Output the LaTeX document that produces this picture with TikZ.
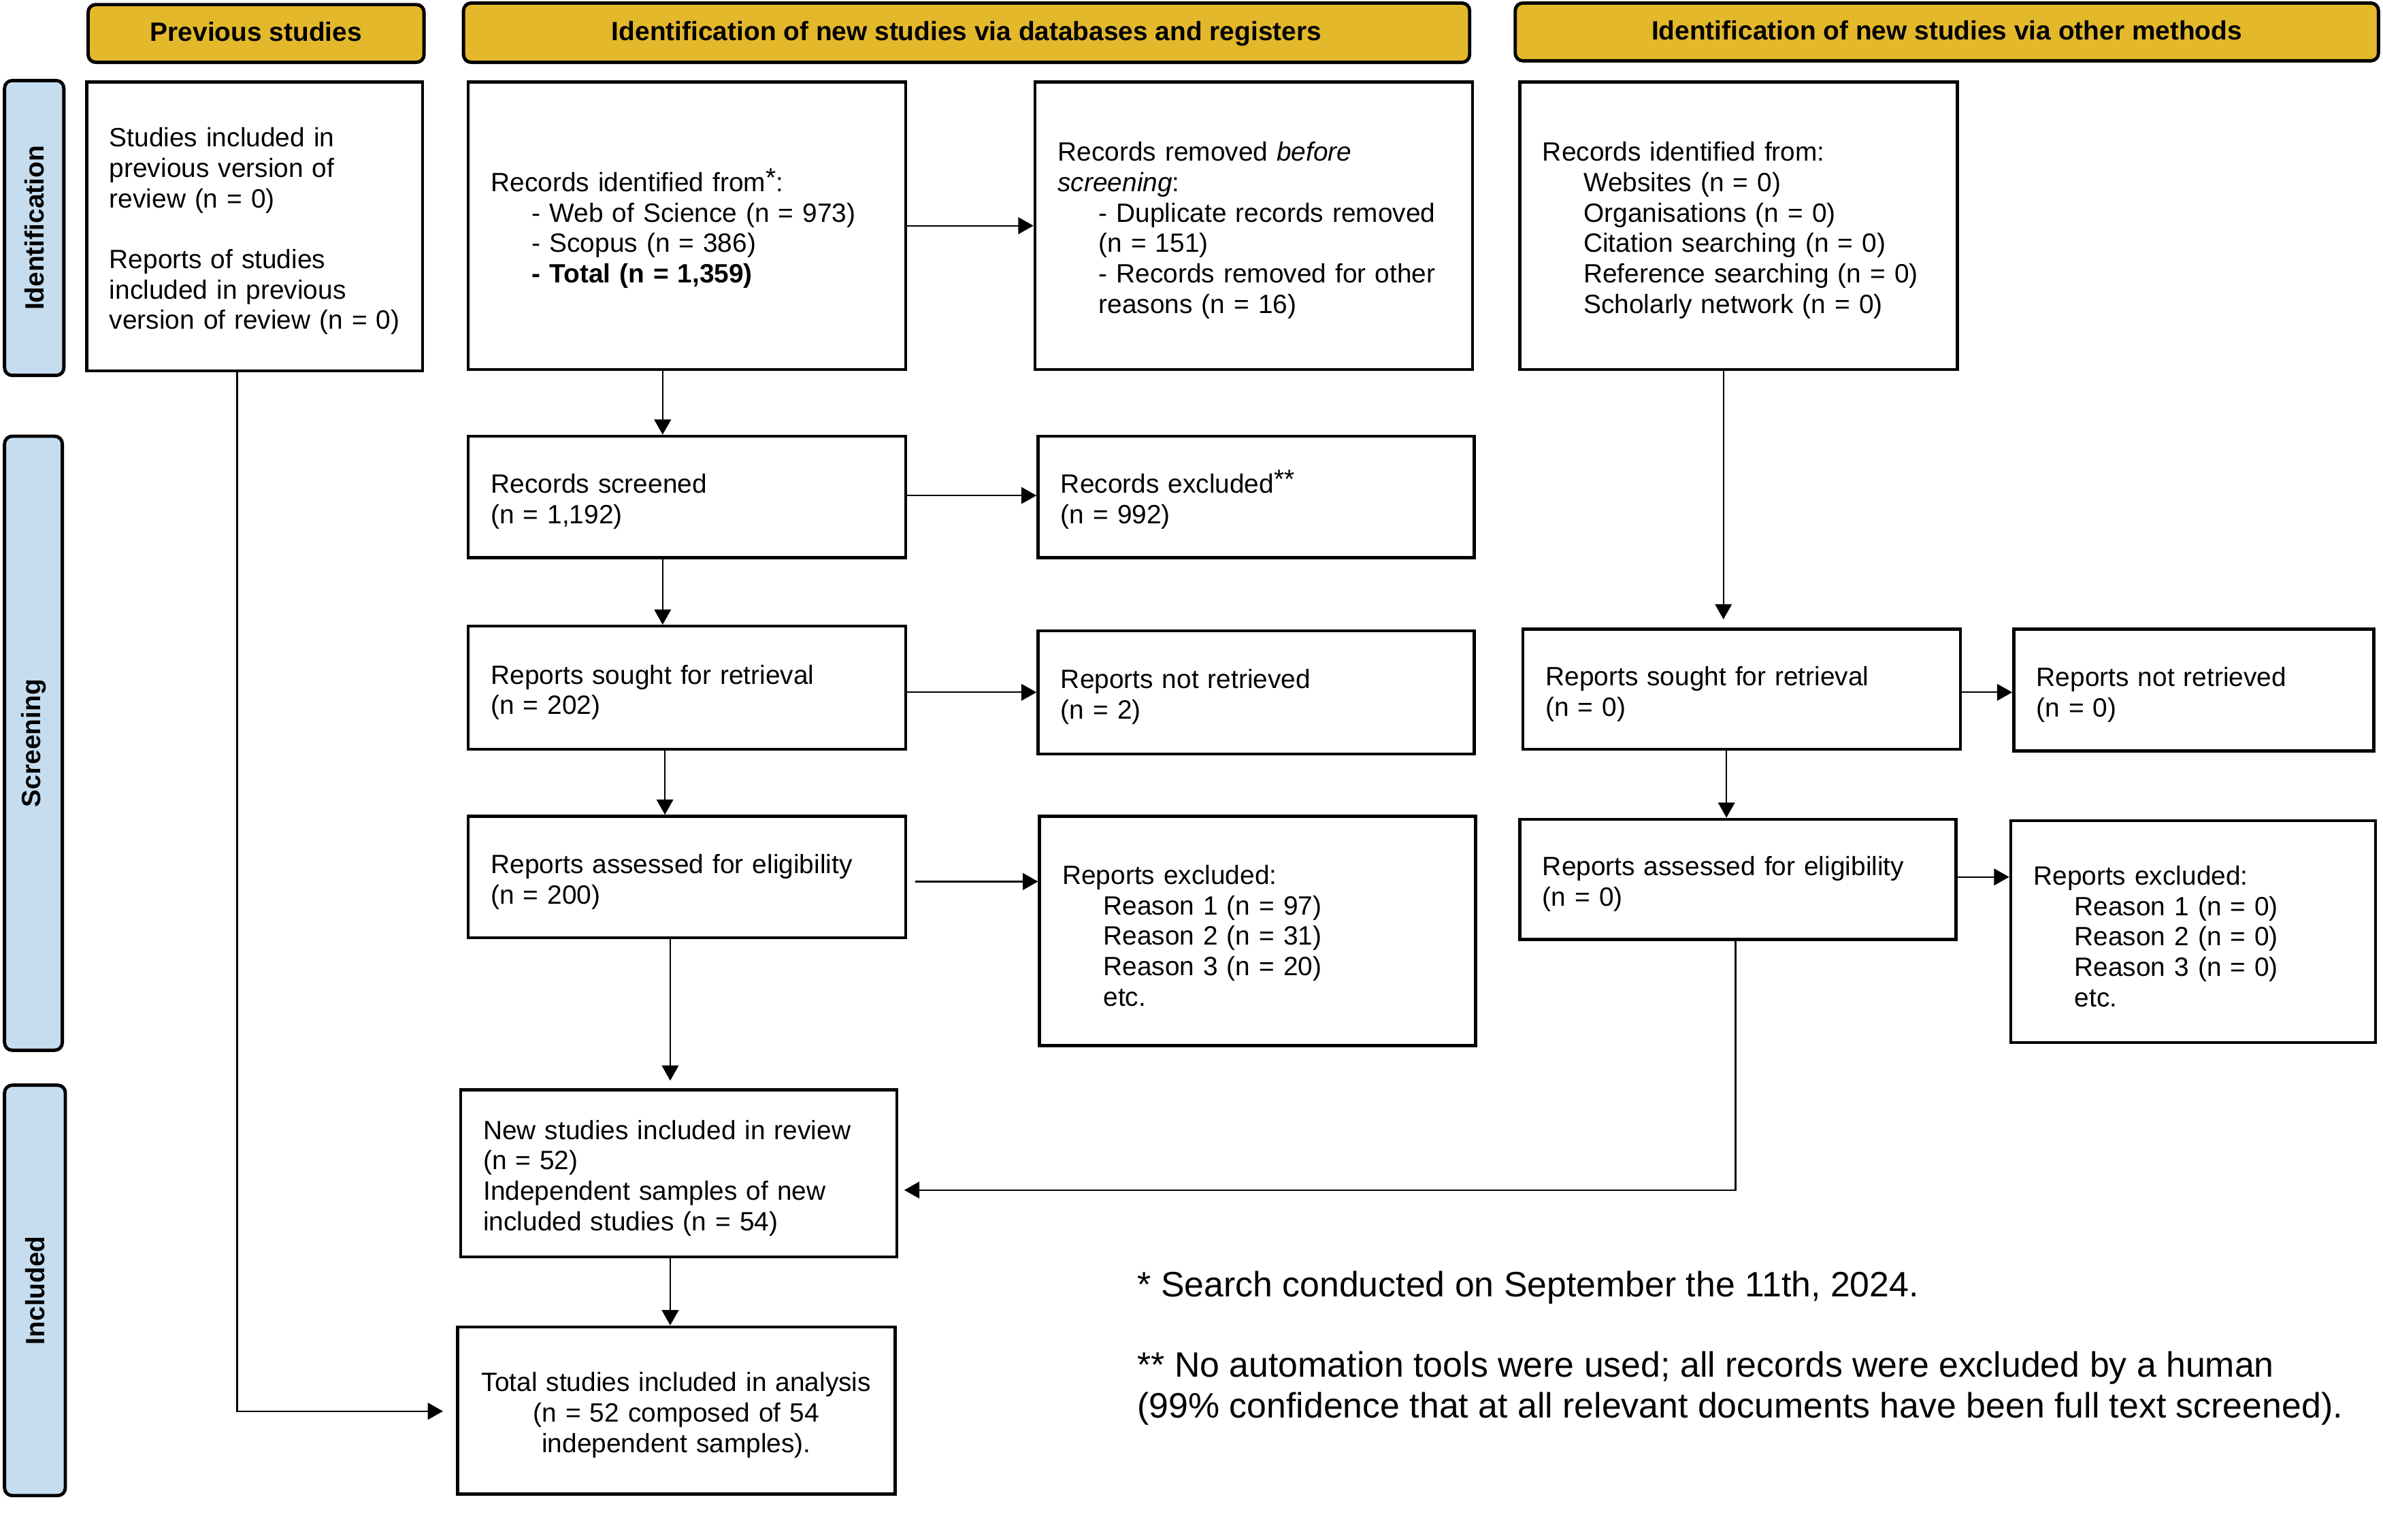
\documentclass[tikz,border=0pt]{standalone}
\usepackage{fontspec}
\setmainfont{Liberation Sans}
\usepackage{xcolor}
\usepackage{tikz}
\usetikzlibrary{positioning,arrows.meta,calc}
\definecolor{hdrgold}{HTML}{E3B82B}
\definecolor{sideblue}{HTML}{C6DDF0}
\newcommand{\ind}{\hspace*{13.5pt}}
\newcommand{\upstar}[1]{\raisebox{0.35ex}{#1}}

\begin{document}
\begin{tikzpicture}[x=0.5pt,y=-0.5pt,
	hdr/.style={draw, line width=1.1pt, rounded corners=2.5pt, fill=hdrgold, inner sep=0pt, text height=6.3pt, text depth=1.2pt, font=\fontsize{8.7}{10}\selectfont\bfseries},
	side/.style={draw, line width=1.1pt, rounded corners=2.5pt, fill=sideblue, inner sep=0pt, rotate=90, font=\fontsize{8.7}{10}\selectfont\bfseries},
	box/.style={draw, line width=1pt, inner xsep=7.5pt, inner ysep=0pt, align=left, execute at begin node={\rule{0pt}{9.4pt}}, font=\fontsize{8.7}{10}\selectfont},
	arr/.style={line width=0.5pt, -{Triangle[length=5pt,width=5.5pt]}},
	note/.style={inner sep=0pt, anchor=west, align=left, font=\fontsize{11.6}{13.5}\selectfont}]
	\useasboundingbox (0,0) rectangle (1568,1013);
	
	% Headers
	\node[hdr, minimum width=110.5pt, minimum height=19pt] (hprev) at (168.5,22) {Previous studies};
	\node[hdr, minimum width=331pt, minimum height=19.5pt] (hdb) at (636,21.5) {Identification of new studies via databases and registers};
	\node[hdr, minimum width=284pt, minimum height=19pt] (hother) at (1281,21) {Identification of new studies via other methods};
	
	% Side bars
	\node[side, minimum width=97pt, minimum height=19.5pt] (sid) at (22.5,150) {Identification};
	\node[side, minimum width=202pt, minimum height=19pt] (sscr) at (22,489) {Screening};
	\node[side, minimum width=135pt, minimum height=20pt] (sinc) at (23,849) {Included};
	
	% Identification row
	\node[box, text width=95.5pt, minimum height=95pt] (prev) at (167.5,149) {Studies included in\\previous version of\\review (n = 0)\\[10pt]Reports of studies\\included in previous\\version of review (n = 0)};
	\node[box, text width=129pt, minimum height=94.5pt] (ident) at (452,148.5) {Records identified from\upstar{*}:\\\ind- Web of Science (n = 973)\\\ind- Scopus (n = 386)\\\ind\textbf{- Total (n = 1,359)}};
	\node[box, text width=129pt, minimum height=94.5pt] (removed) at (825,148.5) {Records removed \textit{before}\\\textit{screening}:\\\ind- Duplicate records removed\\\ind(n = 151)\\\ind- Records removed for other\\\ind reasons (n = 16)};
	\node[box, text width=129pt, minimum height=94.5pt] (oident) at (1144,148.5) {Records identified from:\\\ind Websites (n = 0)\\\ind Organisations (n = 0)\\\ind Citation searching (n = 0)\\\ind Reference searching (n = 0)\\\ind Scholarly network (n = 0)};
	
	% Screening rows
	\node[box, text width=129pt, minimum height=40pt] (screened) at (452,327) {Records screened\\(n = 1,192)};
	\node[box, text width=128.5pt, minimum height=40pt] (excl) at (826.5,327) {Records excluded\upstar{**}\\(n = 992)};
	\node[box, text width=129pt, minimum height=40.5pt] (sought) at (452,452.5) {Reports sought for retrieval\\(n = 202)};
	\node[box, text width=128.5pt, minimum height=40.5pt] (notret) at (826.5,455.5) {Reports not retrieved\\(n = 2)};
	\node[box, text width=129pt, minimum height=39.5pt] (osought) at (1146,453.5) {Reports sought for retrieval\\(n = 0)};
	\node[box, text width=103.5pt, minimum height=40pt] (onotret) at (1443.5,454) {Reports not retrieved\\(n = 0)};
	\node[box, text width=129pt, minimum height=40pt] (assessed) at (452,577) {Reports assessed for eligibility\\(n = 200)};
	\node[box, text width=128.5pt, minimum height=75.5pt] (rexcl) at (827.5,612.5) {Reports excluded:\\\ind Reason 1 (n = 97)\\\ind Reason 2 (n = 31)\\\ind Reason 3 (n = 20)\\\ind etc.};
	\node[box, text width=128.5pt, minimum height=39.5pt] (oassessed) at (1143.5,578.5) {Reports assessed for eligibility\\(n = 0)};
	\node[box, text width=105pt, minimum height=73pt] (oexcl) at (1443,613) {Reports excluded:\\\ind Reason 1 (n = 0)\\\ind Reason 2 (n = 0)\\\ind Reason 3 (n = 0)\\\ind etc.};
	
	% Included rows
	\node[box, text width=128.5pt, minimum height=55pt] (newst) at (446.5,772) {New studies included in review\\(n = 52)\\Independent samples of new\\included studies (n = 54)};
	\node[box, align=center, text width=129pt, minimum height=55pt] (total) at (445,928) {Total studies included in analysis\\(n = 52 composed of 54\\independent samples).};
	
	% Footnotes
	\node[note] (fn1) at (748,847) {* Search conducted on September the 11th, 2024.};
	\node[note] (fn2) at (748,913.5) {** No automation tools were used; all records were excluded by a human\\(99\% confidence that at all relevant documents have been full text screened).};
	
	% Arrows, databases column
	\draw[arr] ([xshift=-8pt]ident.south) -- ([xshift=-8pt]screened.north);
	\draw[arr] ([xshift=-8pt]screened.south) -- ([xshift=-8pt]sought.north);
	\draw[arr] ([xshift=-7.25pt]sought.south) -- ([xshift=-7.25pt]assessed.north);
	\draw[arr] ([xshift=-5.5pt]assessed.south) -- ([xshift=-2.75pt,yshift=2.5pt]newst.north);
	\draw[arr] ([xshift=-2.75pt]newst.south) -- ([xshift=-2pt]total.north);
	\draw[arr] (ident.east) -- (removed.west);
	\draw[arr] ($(screened.east)+(0,-1)$) -- ($(screened.east -| excl.west)+(0,-1)$);
	\draw[arr] (notret.west -| sought.east) -- (notret.west);
	\draw[arr] ($(assessed.east)+(5,3)$) -- ($(assessed.east -| rexcl.west)+(0,3)$);
	
	% Arrows, other methods column
	\draw[arr] ([xshift=-5pt]oident.south) -- ([xshift=-6pt,yshift=2.75pt]osought.north);
	\draw[arr] ([xshift=-5pt]osought.south) -- ([xshift=-3.75pt]oassessed.north);
	\draw[arr] ($(osought.east)+(0,2)$) -- ($(osought.east -| onotret.west)+(0,2)$);
	\draw[arr] ($(oassessed.east)+(0,-1.5)$) -- ($(oassessed.east -| oexcl.west)+(0,-1.5)$);
	\draw[arr] ([xshift=-0.75pt]oassessed.south) |- ($(newst.east)+(4,11)$);
	
	% Previous studies to total
	\draw[arr] ([xshift=-5.75pt]prev.south) |- ($(total.west)+(-8.5,0.5)$);
	
\end{tikzpicture}
\end{document}
